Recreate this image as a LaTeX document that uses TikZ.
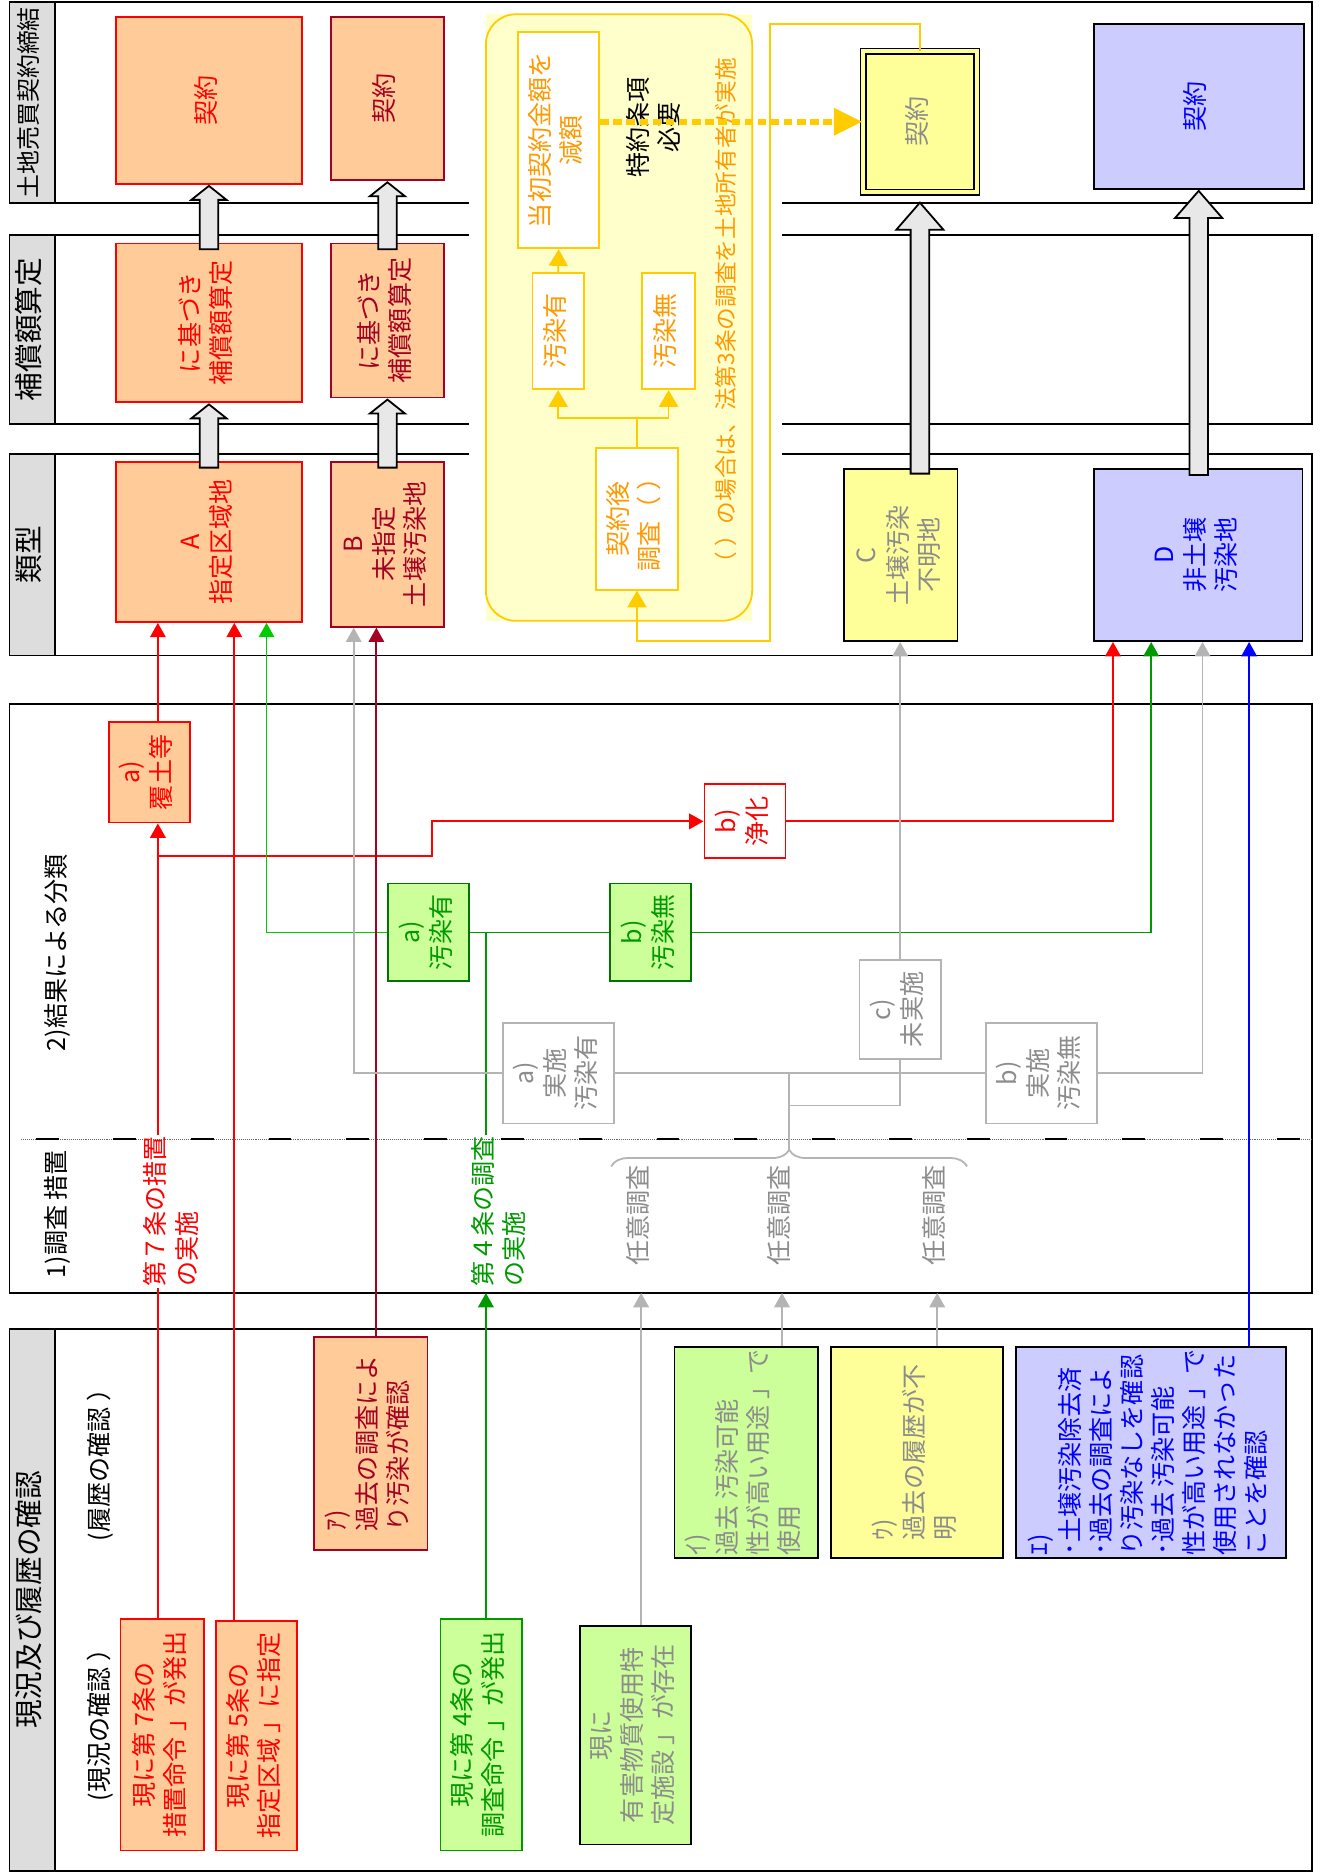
\documentclass[tikz,border=0pt]{standalone}
\usepackage{fontspec}
\usepackage{graphicx}
\usepackage{tikz}
\usetikzlibrary{arrows.meta,shapes.arrows,decorations.pathreplacing}
\newfontfamily\jpfont{Noto Sans CJK JP}
\definecolor{peach}{HTML}{FFCC99}
\definecolor{lgreen}{HTML}{CCFF99}
\definecolor{lyellow}{HTML}{FFFF99}
\definecolor{lavender}{HTML}{CCCCFF}
\definecolor{paleyellow}{HTML}{FFFFCC}
\definecolor{gold}{HTML}{FFCC00}
\definecolor{orangetxt}{HTML}{FF9900}
\definecolor{redc}{HTML}{FF0000}
\definecolor{darkredc}{HTML}{A50021}
\definecolor{greenc}{HTML}{009900}
\definecolor{brightgreen}{HTML}{00CC00}
\definecolor{bluec}{HTML}{0000FF}
\definecolor{grayln}{HTML}{B4B4B4}
\definecolor{graytxt}{HTML}{8C8C8C}
\definecolor{hdrgray}{HTML}{DDDDDD}
\definecolor{arrowgray}{HTML}{E8E8E8}
\newcommand{\vtxt}[1]{\rotatebox{90}{\begin{tabular}{@{}c@{}}#1\end{tabular}}}
\newcommand{\vtxtl}[1]{\rotatebox{90}{\begin{tabular}{@{}l@{}}#1\end{tabular}}}
\tikzset{
  lane/.style={draw=black, line width=1.5pt},
  header/.style={
    draw=black,
    fill=hdrgray,
    line width=1.5pt,
    inner sep=0pt,
    minimum width=38pt,
    font=\jpfont\fontsize{24}{28}\selectfont
  },
  box/.style={
    line width=1.5pt,
    inner sep=0pt,
    font=\jpfont\fontsize{21}{26}\selectfont
  },
  abox/.style={box, draw=redc, fill=peach, text=redc},
  bbox/.style={box, draw=darkredc, fill=peach, text=darkredc},
  cbox/.style={box, draw=black, fill=lyellow, text=graytxt},
  dbox/.style={box, draw=black, fill=lavender, text=bluec},
  gbox/.style={box, draw=greenc!75!black, fill=lgreen, text=greenc},
  ggbox/.style={box, draw=black, fill=lgreen, text=graytxt},
  graybox/.style={box, draw=grayln, fill=white, text=graytxt},
  goldbox/.style={box, draw=gold, fill=white, text=orangetxt},
  txt/.style={inner sep=1pt, font=\jpfont\fontsize{21}{26}\selectfont},
  bigA/.style={
    single arrow,
    draw=black,
    fill=arrowgray,
    line width=1.5pt,
    inner xsep=0pt,
    inner ysep=7pt,
    minimum width=28pt,
    single arrow head extend=7pt,
    single arrow tip angle=103,
    rotate=90,
    anchor=tip
  },
  bigC/.style={
    bigA,
    minimum width=38pt,
    single arrow head extend=12pt,
    single arrow tip angle=82
  },
  arrowend/.style={-{Triangle[length=12pt,width=13pt]}},
  redline/.style={draw=redc, line width=1.5pt},
  darkredline/.style={draw=darkredc, line width=1.5pt},
  greenline/.style={draw=greenc, line width=1.5pt},
  brgreenline/.style={draw=brightgreen, line width=1.5pt},
  grayline/.style={draw=grayln, line width=1.5pt},
  blueline/.style={draw=bluec, line width=1.5pt},
  goldline/.style={draw=gold, line width=1.5pt},
  goldend/.style={-{Triangle[length=14pt,width=16pt]}},
  dotarrow/.style={
    draw=gold,
    line width=5pt,
    dash pattern=on 7pt off 4pt,
    -{Triangle[length=24pt,width=22pt]}
  }
}
\begin{document}
\begin{tikzpicture}[x=1pt, y=1pt]
  \useasboundingbox (0,0) rectangle (1106,1568);

  % lanes and frames
  \draw[lane] (8,1398) rectangle (1099,1566);
  \draw[lane] (8,1213) rectangle (1099,1371);
  \draw[lane] (8,1019) rectangle (1099,1188);
  \draw[lane] (8,485) rectangle (1099,978);
  \draw[lane] (8,1) rectangle (1099,455);
  \draw[densely dotted, black!60, line width=0.6pt] (18,614) -- (1099,614);
  \draw[black, line width=2pt, dash pattern=on 19pt off 46pt] (30,614) -- (1099,614);

  % yellow area
  \fill[white] (393,1024) rectangle (655,1560);
  \fill[paleyellow] (407,1048) rectangle (630,1556);
  \draw[goldline, rounded corners=25pt] (407,1048) rectangle (630,1556);

  \node[header, minimum height=168pt, font=\jpfont\fontsize{20}{24}\selectfont] (hdrkei) at (27,1482) {\vtxt{土地売買契約締結}};
  \node[header, minimum height=158pt] (hdrhosho) at (27,1292) {\vtxt{補償額算定}};
  \node[header, minimum height=169pt] (hdrruikei) at (27,1103.5) {\vtxt{類型}};
  \node[header, minimum height=454pt] (hdrgenkyo) at (27,228) {\vtxt{現況及び履歴の確認}};

  % types A-D
  \node[abox, minimum width=156pt, minimum height=140pt] (akei) at (175,1484) {\vtxt{契約}};
  \node[bbox, minimum width=95pt, minimum height=137pt] (bkei) at (324.5,1485.5) {\vtxt{契約}};
  \node[abox, minimum width=156pt, minimum height=133pt] (aho) at (175,1297.5) {\vtxt{に基づき\\補償額算定}};
  \node[bbox, minimum width=95pt, minimum height=129pt] (bho) at (324.5,1299.5) {\vtxt{に基づき\\補償額算定}};
  \node[abox, minimum width=156pt, minimum height=134pt] (atype) at (175,1114) {\vtxt{A\\指定区域地}};
  \node[bbox, minimum width=95pt, minimum height=138pt] (btype) at (324.5,1112) {\vtxt{B\\未指定\\土壌汚染地}};

  \node[goldbox, minimum width=68pt, minimum height=181pt] (tousho) at (468,1450.5) {\vtxt{当初契約金額を\\減額}};
  \node[goldbox, minimum width=43pt, minimum height=97pt] (yu) at (467.5,1290.5) {\vtxt{汚染有}};
  \node[goldbox, minimum width=44pt, minimum height=97pt] (mu) at (560,1290.5) {\vtxt{汚染無}};
  \node[goldbox, minimum width=69pt, minimum height=119pt] (kgo) at (533.5,1133.5) {\vtxt{契約後\\調査（ ）}};
  \node[txt] (tokuyaku) at (550,1461) {\vtxt{特約条項\\必要}};
  \node[txt, text=orangetxt, font=\jpfont\fontsize{19}{24}\selectfont] (note) at (610,1303) {\vtxt{（ ）の場合は、法第3条の調査を土地所有者が実施}};

  \node[cbox, draw=black, double=lyellow, double distance=3.5pt, line width=1.2pt,
        minimum width=95pt, minimum height=118pt] (ckei) at (770.5,1466) {\vtxt{契約}};
  \node[dbox, minimum width=176pt, minimum height=138pt] (dkei) at (1004,1479) {\vtxt{契約}};
  \node[cbox, minimum width=95pt, minimum height=144pt] (ctype) at (754.5,1103) {\vtxt{C\\土壌汚染\\不明地}};
  \node[dbox, minimum width=175pt, minimum height=144pt] (dtype) at (1003.5,1103) {\vtxt{D\\非土壌\\汚染地}};

  \node[bigA, minimum height=53pt] (arrA1) at (aho.south) {};
  \node[bigA, minimum height=53pt] (arrA2) at (akei.south) {};
  \node[bigA, minimum height=57pt] (arrB1) at (bho.south) {};
  \node[bigA, minimum height=56pt] (arrB2) at (bkei.south) {};
  \node[bigC, minimum height=227pt] (arrC) at ([yshift=-7pt]ckei.south) {};
  \node[bigC, minimum height=238pt] (arrD) at (dkei.south) {};

  % survey and result
  \node[txt] (sec2) at (50,770) {\vtxt{2)結果による分類}};
  \node[txt] (sec1) at (50,551) {\vtxt{1)調査 措置}};
  \node[abox, minimum width=68pt, minimum height=84pt] (fukudo) at (125,921) {\vtxt{a)\\覆土等}};
  \node[box, draw=redc, fill=white, text=redc, minimum width=68pt, minimum height=62pt] (jouka) at (624,880) {\vtxt{b)\\浄化}};
  \node[gbox, minimum width=68pt, minimum height=82pt] (oyu) at (359,787) {\vtxt{a)\\汚染有}};
  \node[gbox, minimum width=68pt, minimum height=82pt] (omu) at (545,787) {\vtxt{b)\\汚染無}};
  \node[graybox, minimum width=93pt, minimum height=84pt] (jyu) at (467.5,669) {\vtxt{a)\\実施\\汚染有}};
  \node[graybox, minimum width=68pt, minimum height=83pt] (mijisshi) at (754,722.5) {\vtxt{c)\\未実施}};
  \node[graybox, minimum width=93pt, minimum height=84pt] (jmu) at (872.5,669) {\vtxt{b)\\実施\\汚染無}};
  \node[txt, text=redc] (lbl7) at (146,553) {\vtxtl{第７条の措置\\の実施}};
  \node[txt, text=greenc] (lbl4) at (420,553) {\vtxtl{第４条の調査\\の実施}};
  \node[txt, text=graytxt] (nini1) at (537,550) {\vtxt{任意調査}};
  \node[txt, text=graytxt] (nini2) at (655,550) {\vtxt{任意調査}};
  \node[txt, text=graytxt] (nini3) at (785,550) {\vtxt{任意調査}};

  % present state and history
  \node[txt] (genkyo) at (86,128) {\vtxt{(現況の確認 ）}};
  \node[txt] (rireki) at (86,346) {\vtxt{(履歴の確認 ）}};
  \node[abox, minimum width=70pt, minimum height=194pt] (sec7) at (136,115) {\vtxt{現に第 7条の\\措置命令 」が発出}};
  \node[abox, minimum width=68pt, minimum height=192pt] (sec5) at (215,114) {\vtxt{現に第 5条の\\指定区域 」に指定}};
  \node[gbox, draw=greenc, minimum width=68pt, minimum height=194pt] (sec4) at (403,115) {\vtxt{現に第 4条の\\調査命令 」が発出}};
  \node[ggbox, minimum width=93pt, minimum height=183pt] (yugai) at (532.5,114.5) {\vtxt{現に\\有害物質使用特\\定施設 」が存在}};
  \node[bbox, minimum width=95pt, minimum height=178pt] (aBox) at (310.5,359) {\vtxtl{ｱ)\\過去の調査によ\\り汚染が確認}};
  \node[ggbox, minimum width=120pt, minimum height=177pt] (iBox) at (625,351.5) {\vtxtl{ｲ)\\過去 汚染可能\\性が高い用途 」で\\使用}};
  \node[cbox, minimum width=144pt, minimum height=177pt] (uBox) at (768,351.5) {\vtxtl{ｳ)\\過去の履歴が不\\明}};
  \node[dbox, minimum width=226pt, minimum height=177pt] (eBox) at (964,351.5) {\vtxtl{ｴ)\\･土壌汚染除去済\\･過去の調査によ\\り汚染なしを確認\\･過去 汚染可能\\性が高い用途 」で\\使用されなかった\\ことを確認}};

  % arrow ends
  \coordinate (tA1) at ([xshift=36pt]atype.south west);
  \coordinate (tA2) at ([xshift=100pt]atype.south west);
  \coordinate (tA3) at ([xshift=127pt]atype.south west);
  \coordinate (tB1) at ([xshift=20pt]btype.south west);
  \coordinate (tB2) at ([xshift=39pt]btype.south west);
  \coordinate (tD1) at ([xshift=17pt]dtype.south west);
  \coordinate (tD2) at ([xshift=49pt]dtype.south west);
  \coordinate (tD3) at ([xshift=92pt]dtype.south west);
  \coordinate (tD4) at ([xshift=131pt]dtype.south west);
  \coordinate (mb4) at (407,485);
  \coordinate (mb7) at (537,485);
  \coordinate (mb8) at (655,485);
  \coordinate (mb9) at (785,485);
  \coordinate (redknee) at (362,851);
  \coordinate (brl) at (512,591);
  \coordinate (brr) at (810,591);
  \coordinate (brtip) at (661,605);
  \coordinate (brknee) at (661,642);
  \coordinate (goldknee) at (645,1031);

  % red
  \draw[redline] (sec7.north -| tA1) -- (lbl7.south -| tA1);
  \draw[redline, arrowend] (lbl7.north -| tA1) -- (fukudo.south -| tA1);
  \draw[redline, arrowend] (fukudo.north -| tA1) -- (tA1);
  \draw[redline, arrowend] (tA1 |- redknee) -- (redknee) |- (jouka.west);
  \draw[redline, arrowend] (jouka.east) -| (tD1);
  \draw[redline, arrowend] (sec5.north -| tA2) -- (tA2);
  % green
  \draw[brgreenline, arrowend] (oyu.west) -| (tA3);
  \draw[greenline, arrowend] (sec4.north -| mb4) -- (mb4);
  \draw[greenline] (lbl4.north -| mb4) -- (oyu.east -| mb4);
  \draw[greenline] (oyu.east) -- (omu.west);
  \draw[greenline, arrowend] (omu.east) -| (tD2);
  % dark red and blue
  \draw[darkredline, arrowend] (aBox.north -| tB2) -- (tB2);
  \draw[blueline, arrowend] (eBox.north -| tD4) -- (tD4);
  % gray
  \draw[grayline, arrowend] (yugai.north -| mb7) -- (mb7);
  \draw[grayline, arrowend] (iBox.north -| mb8) -- (mb8);
  \draw[grayline, arrowend] (uBox.north -| mb9) -- (mb9);
  \draw[grayline, decorate, decoration={brace, amplitude=14pt}] (brl) -- (brr);
  \draw[grayline] (brtip) -- (brtip |- jyu.east);
  \draw[grayline] (jyu.east) -- (jmu.west);
  \draw[grayline] (brknee) -| (mijisshi.south);
  \draw[grayline, arrowend] (jyu.west) -| (tB1);
  \draw[grayline, arrowend] (mijisshi.north) -- (mijisshi.north |- ctype.south);
  \draw[grayline, arrowend] (jmu.east) -| (tD3);
  % gold
  \draw[goldline, goldend] (kgo.north) -- ++(0,24) -| (yu.south);
  \draw[goldline, goldend] (kgo.north) -- ++(0,24) -| (mu.south);
  \draw[goldline, goldend] (yu.north) -- (tousho.south);
  \draw[goldline, goldend] (ckei.north) -- ++(0,22) -| (goldknee) -| (kgo.south);
  \draw[dotarrow] (tousho.east |- ckei.west) -- (ckei.west);
\end{tikzpicture}
\end{document}
